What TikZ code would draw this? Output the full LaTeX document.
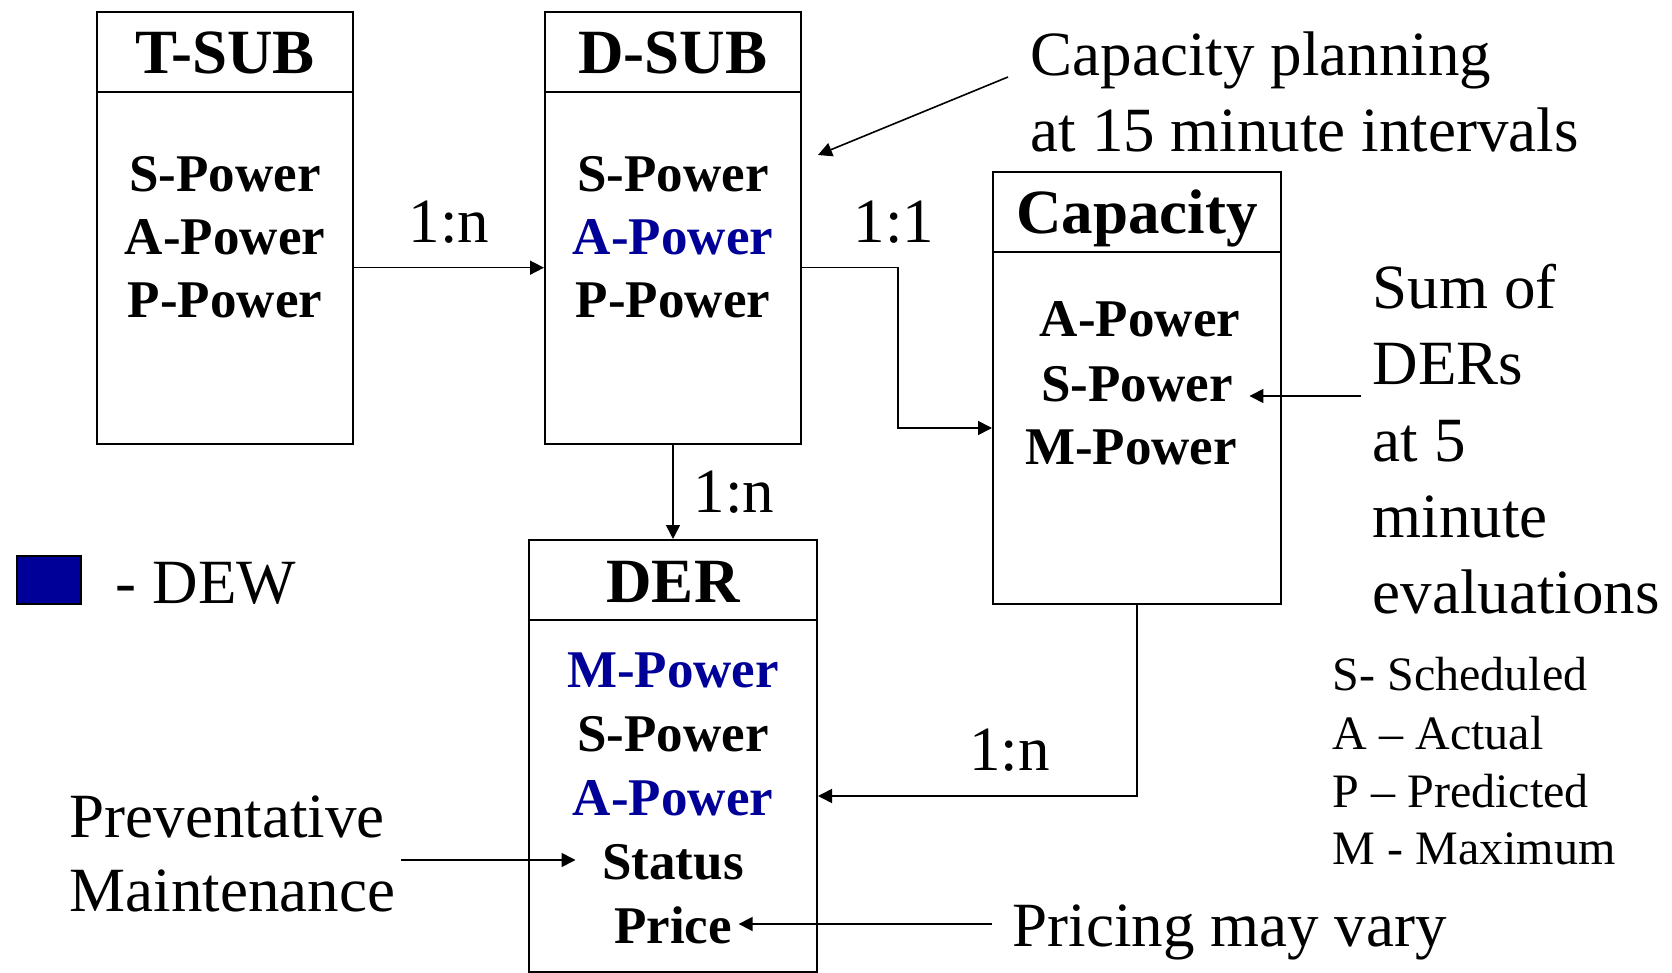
\documentclass[tikz,border=0pt]{standalone}
\usepackage{fontspec}
\setmainfont{Liberation Serif}
\usepackage{xcolor}
\usetikzlibrary{arrows.meta}
\definecolor{dew}{RGB}{0,0,153}

\begin{document}
\begin{tikzpicture}[x=0.5pt, y=-0.5pt, >={Triangle[length=7pt, width=7pt]},
  line width=0.8pt,
  head/.style={draw, line width=1pt, inner sep=2pt, minimum height=40pt,
    text height=22pt, text depth=0pt, font=\bfseries\fontsize{31.5}{36}\selectfont},
  body/.style={draw, line width=1pt, minimum height=176pt},
  field/.style={anchor=base, inner sep=3pt, font=\bfseries\fontsize{26.5}{30}\selectfont},
  note/.style={anchor=base west, inner sep=0pt, font=\fontsize{31.5}{36}\selectfont},
  key/.style={anchor=base west, inner sep=0pt, font=\fontsize{24}{28}\selectfont},
  card/.style={inner sep=10pt, font=\fontsize{31.5}{36}\selectfont}
]
  \useasboundingbox (0,0) rectangle (1672,973);

  % Entity boxes (header + body)
  \node[head, minimum width=128pt] (tsubh) at (225,51.7) {T-SUB};
  \node[body, minimum width=128pt] (tsub) at (225,267.7) {};
  \node[head, minimum width=128pt] (dsubh) at (673,51.7) {D-SUB};
  \node[body, minimum width=128pt] (dsub) at (673,267.7) {};
  \node[head, minimum width=144pt] (caph) at (1137,212) {Capacity};
  \node[body, minimum width=144pt] (cap) at (1137,428) {};
  \node[head, minimum width=144pt] (derh) at (673,580) {DER};
  \node[body, minimum width=144pt] (der) at (673,796) {};

  % Fields
  \node[field] (tsubs) at (225,192) {S-Power};
  \node[field] (tsuba) at (225,255) {A-Power};
  \node[field] (tsubp) at (225,318) {P-Power};

  \node[field] (dsubs) at (673,192) {S-Power};
  \node[field, dew] (dsuba) at (673,255) {A-Power};
  \node[field] (dsubp) at (673,318) {P-Power};

  \node[field] (capa) at (1140,337) {A-Power};
  \node[field] (caps) at (1137,401) {S-Power};
  \node[field] (capm) at (1131,465) {M-Power};

  \node[field, dew] (derm) at (673,687) {M-Power};
  \node[field] (ders) at (673,751) {S-Power};
  \node[field, dew] (dera) at (673,815) {A-Power};
  \node[field] (derst) at (673,879) {Status};
  \node[field] (derpr) at (673,943) {Price};

  % Relations
  \draw[->] (tsub) -- node[card, above=2pt] {1:n} (dsub);
  \draw[->] (dsub.east) -- ++(96,0) node[card, above=2pt, xshift=-2pt] {1:1} |- (cap);
  \draw[->] (dsub) -- node[card, right] {1:n} (derh);
  \draw[->] (cap) |- node[card, above=2pt, pos=0.7] {1:n} (der);

  % Legend
  \node[draw, fill=dew, line width=1pt, minimum width=32pt, minimum height=24pt,
    inner sep=0pt] (dewkey) at (49,580) {};
  \node[note] (dewtxt) at (115,603) {- DEW};

  \node[key] (keys) at (1332,690) {S- Scheduled};
  \node[key] (keya) at (1332,749) {A – Actual};
  \node[key] (keyp) at (1332,807) {P – Predicted};
  \node[key] (keym) at (1332,864) {M - Maximum};

  % Notes
  \node[note] (cpl1) at (1030,76) {Capacity planning};
  \node[note] (cpl2) at (1030,152) {at 15 minute intervals};
  \coordinate (cpfrom) at (1008,77);
  \coordinate (cptip) at (818,155);
  \draw[->] (cpfrom) -- (cptip);

  \node[note] (sum1) at (1372,309) {Sum of};
  \node[note] (sum2) at (1372,385) {DERs};
  \node[note] (sum3) at (1372,461) {at 5};
  \node[note] (sum4) at (1372,537) {minute};
  \node[note] (sum5) at (1372,613) {evaluations};
  \coordinate (sumfrom) at (1361,396);
  \draw[->, shorten >=5pt] (sumfrom) -- (sumfrom -| caps.east);

  \node[note] (pm1) at (69,837) {Preventative};
  \node[note] (pm2) at (69,911) {Maintenance};
  \coordinate (pmfrom) at (401,860);
  \draw[->, shorten >=10pt] (pmfrom) -- (pmfrom -| derst.west);

  \node[note] (price) at (1012,946) {Pricing may vary};
  \coordinate (prfrom) at (992,924);
  \draw[->] (prfrom) -- (prfrom -| derpr.east);
\end{tikzpicture}
\end{document}
